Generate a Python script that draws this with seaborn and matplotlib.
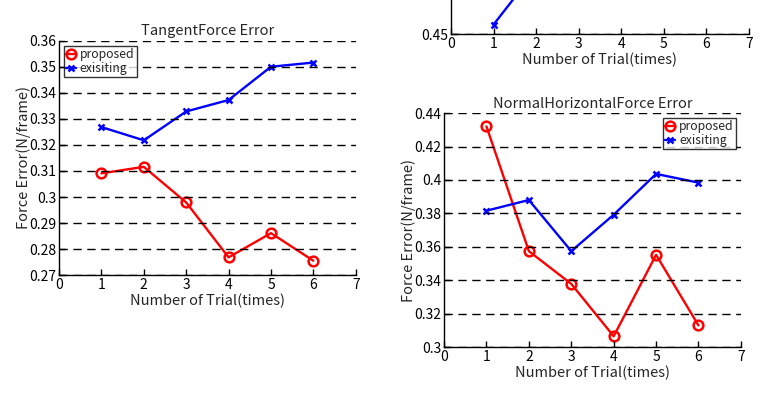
import numpy as np
import pandas as pd
import matplotlib
matplotlib.use("Agg")
import matplotlib.pyplot as plt
import seaborn as sns

trials = [1, 2, 3, 4, 5, 6]

# TangentForce Error
tangent_proposed = [0.3091, 0.3116, 0.2979, 0.2768, 0.2861, 0.2755]
tangent_existing = [0.3269, 0.3218, 0.3329, 0.3373, 0.3501, 0.3517]
tangent_yticks = [0.27, 0.28, 0.29, 0.30, 0.31, 0.32, 0.33, 0.34, 0.35, 0.36]
tangent_ylabels = ['0.27', '0.28', '0.29', '0.3', '0.31', '0.32', '0.33', '0.34', '0.35', '0.36']

# NormalHorizontalForce Error
normal_proposed = [0.4320, 0.3574, 0.3378, 0.3065, 0.3552, 0.3130]
normal_existing = [0.3816, 0.3880, 0.3574, 0.3792, 0.4036, 0.3984]
normal_yticks = [0.30, 0.32, 0.34, 0.36, 0.38, 0.40, 0.42, 0.44]
normal_ylabels = ['0.3', '0.32', '0.34', '0.36', '0.38', '0.4', '0.42', '0.44']

# top right panel, only its bottom strip is visible in the picture
top_proposed = [0.520, 0.530, 0.515, 0.505, 0.525, 0.510]
top_existing = [0.456, 0.491, 0.540, 0.560, 0.570, 0.575]
top_yticks = [0.45, 0.50, 0.55, 0.60]
top_ylabels = ['0.45', '', '', '']

xticks = [0, 1, 2, 3, 4, 5, 6, 7]

sns.set_theme(style="white")
plt.rcParams['font.family'] = ['Noto Sans CJK JP', 'DejaVu Sans']
plt.rcParams['font.size'] = 10


def draw_panel(ax, proposed, existing, yticks, ylabels, title, ylabel, legend_loc):
    df = pd.DataFrame({
        'trial': trials * 2,
        'error': proposed + existing,
        'method': ['proposed'] * 6 + ['exisiting'] * 6,
    })
    sns.lineplot(data=df[df.method == 'proposed'], x='trial', y='error', ax=ax,
                 color='#ff0000', lw=1.7, marker='o', markersize=7,
                 markerfacecolor='none', markeredgecolor='#ff0000',
                 markeredgewidth=1.8, label='proposed')
    sns.lineplot(data=df[df.method == 'exisiting'], x='trial', y='error', ax=ax,
                 color='#0000ff', lw=1.7, marker='x', markersize=5,
                 markeredgecolor='#0000ff', markeredgewidth=1.8, label='exisiting')
    # seaborn dashes the second series otherwise
    for ln in ax.get_lines():
        ln.set_linestyle('-')
    ax.set_xlim(0, 7)
    ax.set_ylim(yticks[0], yticks[-1])
    ax.set_xticks(xticks)
    ax.set_yticks(yticks)
    ax.set_yticklabels(ylabels)
    ax.yaxis.grid(True, linestyle=(0, (6, 4)), color='black', lw=1)
    ax.xaxis.grid(False)
    ax.set_axisbelow(False)
    for s in ['top', 'right']:
        ax.spines[s].set_visible(False)
    for s in ['left', 'bottom']:
        ax.spines[s].set_color('black')
        ax.spines[s].set_linewidth(1)
    ax.tick_params(direction='in', length=4, width=1, colors='black',
                   labelsize=10, pad=2, left=True, bottom=True)
    ax.set_title(title, fontsize=10.5, pad=4)
    ax.set_xlabel('Number of Trial(times)', fontsize=10.5, labelpad=1)
    ax.set_ylabel(ylabel, fontsize=10.5, labelpad=-1.5)
    if legend_loc is None:
        ax.get_legend().remove()
        return
    leg = ax.legend(loc=legend_loc, fontsize=8.8, frameon=True, fancybox=False,
                    handlelength=0.8, handletextpad=0.3, borderpad=0.2,
                    labelspacing=0.05, borderaxespad=0.4)
    leg.get_frame().set_edgecolor('black')
    leg.get_frame().set_linewidth(1)


fig = plt.figure(figsize=(7.63, 3.94), dpi=100)
ax1 = fig.add_axes([0.0773, 0.302, 0.389, 0.594])
ax2 = fig.add_axes([0.591, 0.9137, 0.3906, 0.594])
ax3 = fig.add_axes([0.582, 0.119, 0.389, 0.594])

draw_panel(ax1, tangent_proposed, tangent_existing, tangent_yticks, tangent_ylabels,
           'TangentForce Error', 'Force Error(N/frame)', 'upper left')
draw_panel(ax2, top_proposed, top_existing, top_yticks, top_ylabels,
           '', '', None)
draw_panel(ax3, normal_proposed, normal_existing, normal_yticks, normal_ylabels,
           'NormalHorizontalForce Error', 'Force Error(N/frame)', 'upper right')

fig.savefig('out.png', dpi=100)
